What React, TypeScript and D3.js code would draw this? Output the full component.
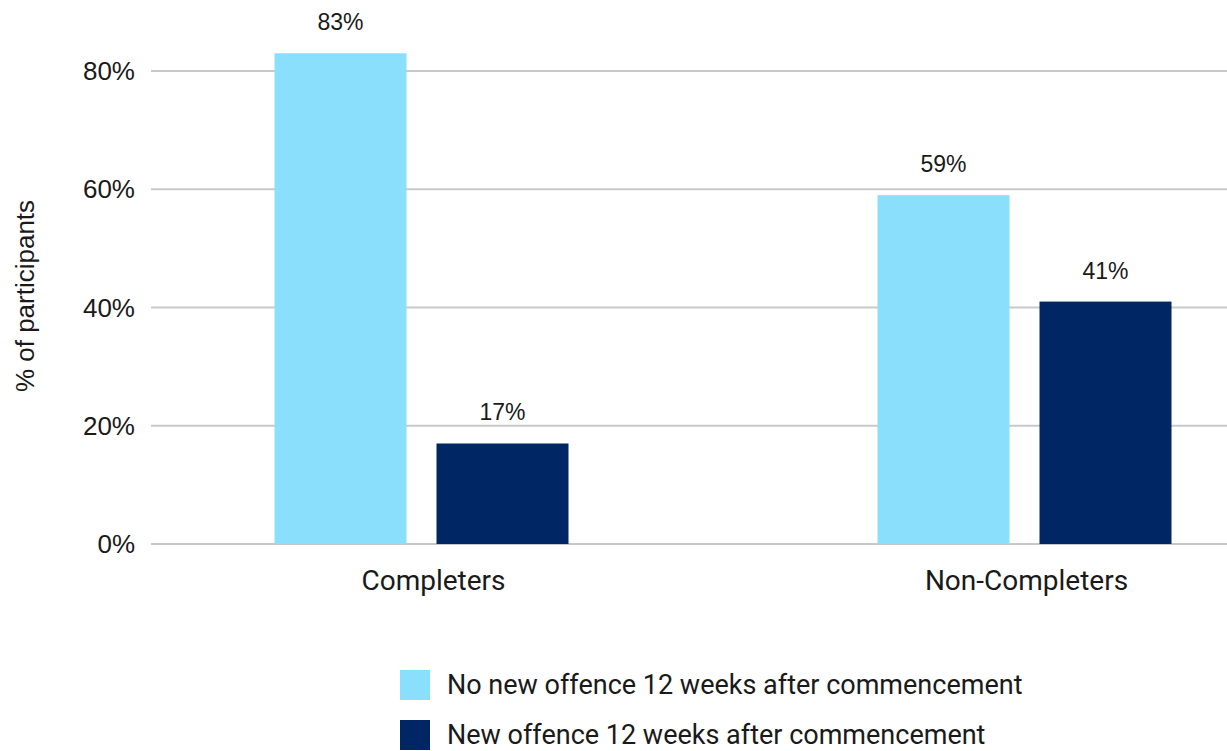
import React from 'react';
import * as d3 from 'd3';

// Chart data
const CATEGORIES = ['Completers', 'Non-Completers'];
const SERIES = [
  'No new offence 12 weeks after commencement',
  'New offence 12 weeks after commencement',
];
const NO_NEW_OFFENCE = [83, 59];
const NEW_OFFENCE = [17, 41];
const Y_TICKS = [0, 20, 40, 60, 80];

const COLORS = ['#8ADFFD', '#002664'];
const WIDTH = 1227;
const HEIGHT = 751;

const App: React.FC = () => {
  const values = [NO_NEW_OFFENCE, NEW_OFFENCE];

  const y = d3.scaleLinear().domain([0, 80]).range([544, 71]);
  const x0 = d3.scaleBand<string>().domain(CATEGORIES).range([120, 1326]);
  // two bars of ~132px with a 30px gap, centred in each category band
  const groupW = 294;
  const x1 = d3
    .scaleBand<number>()
    .domain([0, 1])
    .range([x0.bandwidth() / 2 - groupW / 2, x0.bandwidth() / 2 + groupW / 2])
    .paddingInner(30 / 162);

  const gridLeft = 151;
  const gridRight = WIDTH;
  const numFont = '"Liberation Sans", Arial, sans-serif';
  const textFont = 'Roboto, "Noto Sans", sans-serif';

  return (
    <svg
      width={WIDTH}
      height={HEIGHT}
      style={{ position: 'absolute', left: 0, top: 0, background: '#fff' }}
    >
      {/* gridlines + y tick labels */}
      {Y_TICKS.map((t) => (
        <g key={t}>
          <line
            x1={gridLeft}
            x2={gridRight}
            y1={y(t)}
            y2={y(t)}
            stroke="#c9c9c9"
            strokeWidth={2}
          />
          <text
            x={135}
            y={y(t)}
            dy="0.35em"
            textAnchor="end"
            fontFamily={numFont}
            fontSize={26}
            fill="#1a1a1a"
          >
            {`${t}%`}
          </text>
        </g>
      ))}

      {/* y axis title */}
      <text
        transform="translate(34,296) rotate(-90)"
        textAnchor="middle"
        fontFamily={numFont}
        fontSize={26}
        fill="#1a1a1a"
      >
        % of participants
      </text>

      {/* bars */}
      {CATEGORIES.map((cat, ci) => (
        <g key={cat} transform={`translate(${x0(cat)},0)`}>
          {values.map((vals, si) => {
            const bx = x1(si) ?? 0;
            const v = vals[ci];
            return (
              <g key={si}>
                <rect
                  x={bx}
                  y={y(v)}
                  width={x1.bandwidth()}
                  height={y(0) - y(v)}
                  fill={COLORS[si]}
                />
                <text
                  x={bx + x1.bandwidth() / 2}
                  y={y(v) - 23}
                  textAnchor="middle"
                  fontFamily={numFont}
                  fontSize={23}
                  fill="#1a1a1a"
                >
                  {`${v}%`}
                </text>
              </g>
            );
          })}
          <text
            x={x0.bandwidth() / 2 + (ci === 0 ? 12 : 2)}
            y={590}
            textAnchor="middle"
            fontFamily={textFont}
            fontSize={28}
            fill="#1a1a1a"
          >
            {cat}
          </text>
        </g>
      ))}

      {/* legend */}
      {SERIES.map((name, i) => (
        <g key={name} transform={`translate(400,${670 + i * 50})`}>
          <rect width={30} height={30} fill={COLORS[i]} />
          <text
            x={47}
            y={15}
            dy="0.35em"
            fontFamily={textFont}
            fontSize={27}
            fill="#1a1a1a"
          >
            {name}
          </text>
        </g>
      ))}
    </svg>
  );
};

export default App;
